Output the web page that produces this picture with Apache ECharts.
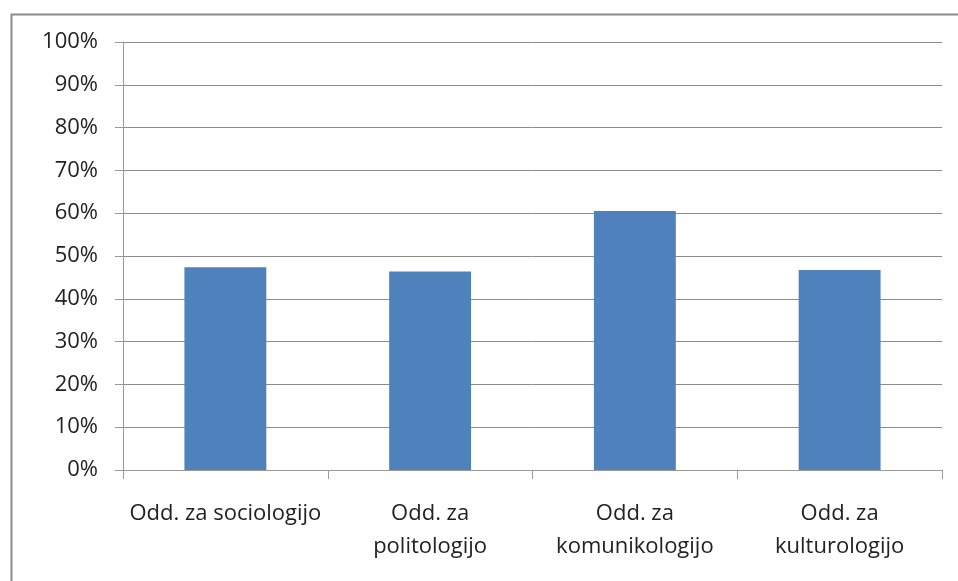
<!DOCTYPE html>
<html>
<head>
<meta charset="utf-8">
<script src="https://cdn.jsdelivr.net/npm/echarts@6/dist/echarts.min.js"></script>
<style>html,body{margin:0;padding:0;background:#fff}#c{width:958px;height:581px}</style>
</head>
<body>
<div id="c"></div>
<script>
const categories = ["Odd. za sociologijo", "Odd. za\npolitologijo", "Odd. za\nkomunikologijo", "Odd. za\nkulturologijo"];
const values = [47.4, 46.4, 60.5, 46.7];
const yTicks = { min: 0, max: 100, interval: 10 };

const chart = echarts.init(document.getElementById('c'), null, { renderer: 'canvas' });
const font = '"Open Sans", sans-serif';
chart.setOption({
  animation: false,
  backgroundColor: '#fff',
  graphic: [{
    type: 'rect', left: 9, top: 12, shape: { width: 980, height: 620 },
    style: { fill: 'none', stroke: '#8a8a8a', lineWidth: 2 }, silent: true
  }],
  grid: { left: 123, right: 16, top: 42, bottom: 111, containLabel: false },
  xAxis: {
    type: 'category', data: categories,
    axisLine: { lineStyle: { color: '#9a9a9a', width: 1 } },
    axisTick: { show: true, length: 9, lineStyle: { color: '#9a9a9a' } },
    axisLabel: { interval: 0, color: '#222', fontFamily: font, fontSize: 22, lineHeight: 33, margin: 27 }
  },
  yAxis: {
    type: 'value', min: yTicks.min, max: yTicks.max, interval: yTicks.interval,
    axisLine: { show: true, lineStyle: { color: '#9a9a9a', width: 1 } },
    axisTick: { show: true, length: 8, lineStyle: { color: '#9a9a9a' } },
    axisLabel: { color: '#222', fontFamily: font, fontSize: 22, margin: 25, formatter: '{value}%' },
    splitLine: { show: true, lineStyle: { color: '#8c8c8c', width: 1 } }
  },
  series: [{
    type: 'bar', data: values, barWidth: '40%',
    itemStyle: { color: '#4F81BD' }
  }]
});
</script>
</body>
</html>
